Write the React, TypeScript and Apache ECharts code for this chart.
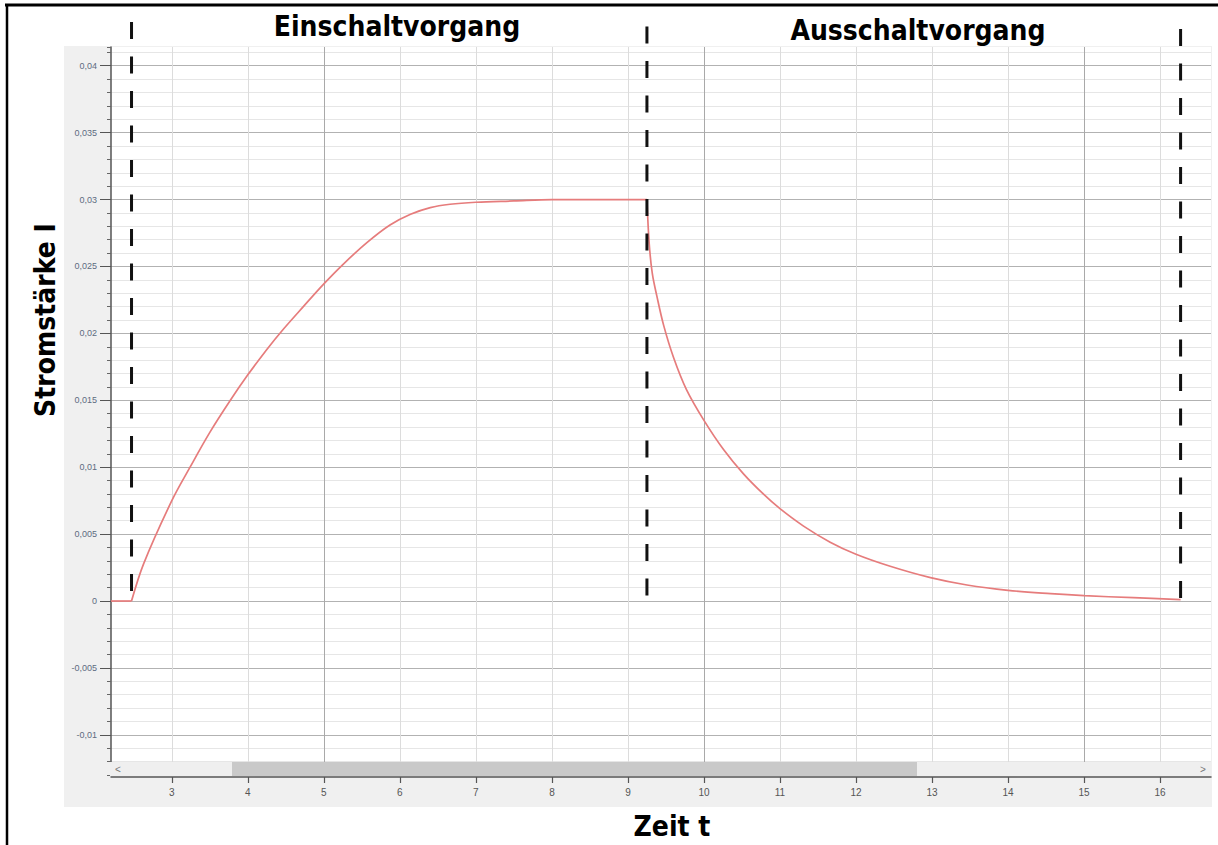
import React, { useEffect, useRef } from "react";
import * as echarts from "echarts";

// ---- data ----
const leadTime = [2.2, 2.47];
const leadCurrent = [0, 0];

const riseTime = [2.47, 2.63, 3.0, 3.24, 3.5, 3.77, 4.0, 4.25, 4.45, 4.73, 5.0, 5.26, 5.57, 5.87, 6.14, 6.4, 6.66, 7.0, 7.5, 8.0, 8.5, 9.0, 9.25];
const riseCurrent = [0, 0.0028, 0.0075, 0.01, 0.0126, 0.015, 0.0169, 0.0188, 0.0202, 0.022, 0.0237, 0.0252, 0.0268, 0.0281, 0.0289, 0.0294, 0.02965, 0.0298, 0.0299, 0.03, 0.03, 0.03, 0.03];

const fallTime = [9.25, 9.28, 9.32, 9.38, 9.47, 9.6, 9.77, 10.0, 10.26, 10.52, 10.78, 11.0, 11.31, 11.66, 12.0, 12.45, 12.98, 13.46, 14.0, 14.56, 15.0, 15.65, 16.27];
const fallCurrent = [0.03, 0.0267, 0.0245, 0.0228, 0.0206, 0.0182, 0.0158, 0.0135, 0.0113, 0.0095, 0.008, 0.0069, 0.0056, 0.0044, 0.0035, 0.0026, 0.00175, 0.0012, 0.0008, 0.00055, 0.0004, 0.00025, 0.0001];

const phaseTitles = ["Einschaltvorgang", "Ausschaltvorgang"];
const markerTimes = [2.47, 9.25, 16.27];
const xRange = [2.2, 16.67];
const yRange = [-0.013, 0.0414];
const xLabel = "Zeit t";
const yLabel = "Stromstärke I";

// ---- layout ----
const W = 1218;
const H = 845;
const GRID = { left: 111, right: 7, top: 47, bottom: 70 };
const TITLE_FONT = "'DejaVu Sans Condensed', 'DejaVu Sans', sans-serif";
const markerTops = [22, 26.5, 29];
const CURVE_STYLE = { color: "#e67c7c", width: 1.7 };

function fmtY(v: number): string {
  const k = Math.round(v / 0.005);
  if (Math.abs(k * 0.005 - v) > 1e-9) return "";
  const r = Math.round(v * 10000) / 10000;
  return String(r).replace(".", ",");
}

function fmtX(v: number): string {
  if (Math.abs(Math.round(v) - v) > 1e-9) return "";
  return String(Math.round(v));
}

function pairs(ts: number[], vs: number[]): number[][] {
  return ts.map((t, i) => [t, vs[i]]);
}

export default function App() {
  const ref = useRef<HTMLDivElement>(null);
  useEffect(() => {
    if (!ref.current) return;
    const chart = echarts.init(ref.current, null, { renderer: "svg" });

    const axisCommon = { type: "value" as const, min: xRange[0], max: xRange[1] };
    const yCommon = { type: "value" as const, min: yRange[0], max: yRange[1] };

    const curve = (data: number[][], smooth: number | boolean) => ({
      type: "line",
      xAxisIndex: 0,
      yAxisIndex: 0,
      data,
      showSymbol: false,
      symbol: "none",
      smooth,
      lineStyle: CURVE_STYLE,
      z: 5,
    });

    chart.setOption({
      animation: false,
      grid: {
        ...GRID,
        show: true,
        backgroundColor: "#ffffff",
        borderWidth: 0,
      },
      xAxis: [
        {
          ...axisCommon,
          position: "bottom",
          offset: 2,
          minInterval: 1,
          maxInterval: 1,
          splitNumber: 15,
          axisLine: { show: true, onZero: false, lineStyle: { color: "#555", width: 1.5 } },
          axisTick: { show: true, length: 6, lineStyle: { color: "#555", width: 1.2 } },
          axisLabel: {
            show: true,
            margin: 10,
            color: "#555",
            fontSize: 10,
            fontFamily: "'Liberation Sans', Arial, sans-serif",
            formatter: fmtX,
            showMinLabel: false,
            showMaxLabel: false,
          },
          splitLine: { show: true, showMinLine: false, showMaxLine: false, lineStyle: { color: "#dcdcdc", width: 1 } },
        },
        {
          ...axisCommon,
          position: "bottom",
          minInterval: 5,
          maxInterval: 5,
          splitNumber: 3,
          axisLine: { show: false, onZero: false },
          axisTick: { show: false },
          axisLabel: { show: false },
          splitLine: { show: true, showMinLine: false, showMaxLine: false, lineStyle: { color: "#a9a9a9", width: 1 } },
        },
      ],
      yAxis: [
        {
          ...yCommon,
          position: "left",
          minInterval: 0.001,
          maxInterval: 0.001,
          splitNumber: 55,
          axisLine: { show: true, onZero: false, lineStyle: { color: "#555", width: 1.5 } },
          axisTick: { show: true, length: 4, lineStyle: { color: "#666", width: 1 } },
          axisLabel: { show: false },
          splitLine: { show: true, showMinLine: false, showMaxLine: false, lineStyle: { color: "#e6e6e6", width: 1 } },
        },
        {
          ...yCommon,
          position: "left",
          minInterval: 0.005,
          maxInterval: 0.005,
          splitNumber: 11,
          axisLine: { show: false, onZero: false },
          axisTick: { show: true, length: 11, lineStyle: { color: "#555", width: 1 } },
          axisLabel: {
            show: true,
            margin: 14,
            color: "#5d6b80",
            fontSize: 9,
            fontFamily: "'Liberation Sans', Arial, sans-serif",
            formatter: fmtY,
            showMinLabel: false,
            showMaxLabel: false,
          },
          splitLine: { show: true, showMinLine: false, showMaxLine: false, lineStyle: { color: "#b2b2b2", width: 1 } },
        },
      ],
      series: [
        curve(pairs(leadTime, leadCurrent), false),
        curve(pairs(riseTime, riseCurrent), 0.35),
        curve(pairs(fallTime, fallCurrent), 0.35),
      ],
    });

    const xs = markerTimes.map((t) => chart.convertToPixel({ xAxisIndex: 0 }, t) as number);
    const y0 = chart.convertToPixel({ yAxisIndex: 0 }, 0) as number;
    const plotLeft = GRID.left;
    const plotRight = W - GRID.right;
    const plotBottom = H - GRID.bottom;

    const graphics: any[] = [
      {
        type: "rect",
        z: -10,
        silent: true,
        shape: { x: 64, y: 46, width: plotRight - 64 + 1, height: 807 - 46 },
        style: { fill: "#f0f0f0" },
      },
      {
        type: "rect",
        z: 50,
        silent: true,
        shape: { x: plotLeft - 1, y: plotBottom - 13, width: plotRight - plotLeft + 1, height: 14 },
        style: { fill: "#efefef" },
      },
      {
        type: "rect",
        z: 51,
        silent: true,
        shape: { x: 232, y: plotBottom - 13, width: 685, height: 14 },
        style: { fill: "#c9c9c9" },
      },
      {
        type: "text",
        z: 52,
        x: 118,
        y: plotBottom - 6,
        style: { text: "<", fill: "#777", font: "10px 'Liberation Sans', sans-serif", align: "center", verticalAlign: "middle" },
      },
      {
        type: "text",
        z: 52,
        x: plotRight - 8,
        y: plotBottom - 6,
        style: { text: ">", fill: "#777", font: "10px 'Liberation Sans', sans-serif", align: "center", verticalAlign: "middle" },
      },
      { type: "line", z: 60, shape: { x1: 5, y1: 5, x2: W, y2: 5 }, style: { stroke: "#000", lineWidth: 3 } },
      { type: "line", z: 60, shape: { x1: 7, y1: 4, x2: 7, y2: H }, style: { stroke: "#000", lineWidth: 2.5 } },
      {
        type: "text",
        z: 60,
        x: 397,
        y: 26,
        style: { text: phaseTitles[0], fill: "#000", font: `bold 28px ${TITLE_FONT}`, align: "center", verticalAlign: "middle" },
      },
      {
        type: "text",
        z: 60,
        x: 918,
        y: 30,
        style: { text: phaseTitles[1], fill: "#000", font: `bold 28px ${TITLE_FONT}`, align: "center", verticalAlign: "middle" },
      },
      {
        type: "text",
        z: 60,
        x: 672,
        y: 826,
        style: { text: xLabel, fill: "#000", font: `bold 28px ${TITLE_FONT}`, align: "center", verticalAlign: "middle" },
      },
      {
        type: "text",
        z: 60,
        x: 45.5,
        y: 320,
        rotation: Math.PI / 2,
        style: { text: yLabel, fill: "#000", font: `bold 28px ${TITLE_FONT}`, align: "center", verticalAlign: "middle" },
      },
    ];

    xs.forEach((x, i) => {
      graphics.push({
        type: "line",
        z: 40,
        silent: true,
        shape: { x1: x, y1: markerTops[i], x2: x, y2: y0 - 1 },
        style: { stroke: "#111", lineWidth: 3, lineDash: [17, 17.5] },
      });
    });

    chart.setOption({ graphic: graphics });

    return () => chart.dispose();
  }, []);

  return (
    <div
      ref={ref}
      style={{ position: "absolute", left: 0, top: 0, width: W, height: H, background: "#fff" }}
    />
  );
}
